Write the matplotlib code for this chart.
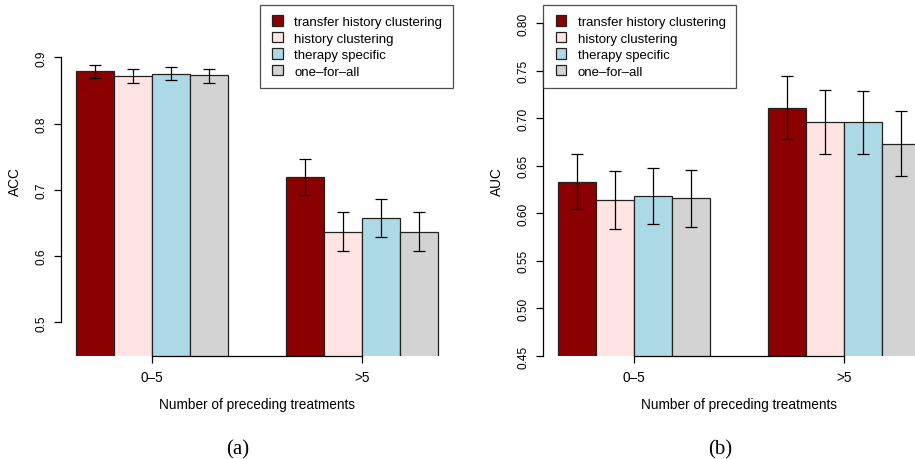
import numpy as np
import matplotlib
matplotlib.use("Agg")
import matplotlib.pyplot as plt
from matplotlib.patches import Patch, Rectangle
from matplotlib.legend_handler import HandlerPatch

plt.rcParams['font.family'] = ['Liberation Sans', 'DejaVu Sans']

# data
groups = ['0\u20135', '>5']
methods = ['transfer history clustering', 'history clustering',
           'therapy specific', 'one\u2013for\u2013all']
colors = ['#8B0000', '#FFE4E1', '#ADD8E6', '#D3D3D3']

acc_mean = [[0.880, 0.720], [0.872, 0.636], [0.875, 0.658], [0.873, 0.636]]
acc_lo = [[0.869, 0.693], [0.862, 0.608], [0.866, 0.629], [0.862, 0.608]]
acc_hi = [[0.889, 0.747], [0.883, 0.666], [0.886, 0.687], [0.883, 0.666]]

auc_mean = [[0.633, 0.711], [0.614, 0.696], [0.6185, 0.6956], [0.616, 0.673]]
auc_lo = [[0.605, 0.678], [0.584, 0.662], [0.589, 0.662], [0.586, 0.639]]
auc_hi = [[0.662, 0.744], [0.644, 0.730], [0.648, 0.729], [0.646, 0.708]]

acc_ticks = [0.5, 0.6, 0.7, 0.8, 0.9]
auc_ticks = [0.45, 0.50, 0.55, 0.60, 0.65, 0.70, 0.75, 0.80]

W, H = 915, 460
fig = plt.figure(figsize=(W / 100, H / 100), dpi=100)

centers = np.array([0.0, 5.5])
offsets = np.array([-1.5, -0.5, 0.5, 1.5])


def square_patch(legend, orig_handle, xdescent, ydescent, width, height, fontsize):
    # small square at the right end of the handle slot, like R's legend fill boxes
    s = 0.78 * fontsize
    return Rectangle((-xdescent + width - s, -ydescent + (height - s) / 2), s, s)


def draw_panel(ax, mean, lo, hi, ylim, ticks, fmt, ylabel, legend_loc):
    for i in range(4):
        x = centers + offsets[i]
        m = np.array(mean[i])
        err = [m - np.array(lo[i]), np.array(hi[i]) - m]
        ax.bar(x, m, width=1.0, color=colors[i], edgecolor='#222222',
               linewidth=0.9, zorder=2)
        ax.errorbar(x, m, yerr=err, fmt='none', ecolor='black',
                    elinewidth=0.9, capsize=4, capthick=0.9, zorder=3)
    ax.set_xlim(-2.38, 7.88)
    ax.set_ylim(*ylim)
    for s in ['top', 'right']:
        ax.spines[s].set_visible(False)
    ax.spines['left'].set_bounds(ticks[0], ticks[-1])
    ax.spines['bottom'].set_bounds(centers[0], centers[-1])
    ax.spines['left'].set_linewidth(0.9)
    ax.spines['bottom'].set_linewidth(0.9)
    ax.set_yticks(ticks)
    ax.set_yticklabels([fmt % t for t in ticks], rotation=90, va='center',
                       fontsize=8.6)
    ax.set_xticks(centers)
    ax.set_xticklabels(groups, fontsize=9.8)
    ax.tick_params(axis='both', length=5, width=0.9, pad=5)
    ax.tick_params(axis='x', pad=5)
    ax.set_xlabel('Number of preceding treatments', fontsize=9.8, labelpad=9)
    ax.set_ylabel(ylabel, fontsize=9.8, labelpad=10)
    handles = [Patch(facecolor=c, edgecolor='#222222', linewidth=0.9) for c in colors]
    leg = ax.legend(handles, methods, loc=legend_loc, fontsize=9.5,
                    frameon=True, fancybox=False, borderaxespad=0,
                    handlelength=0.92, handleheight=0.78, handletextpad=0.89,
                    labelspacing=0.3, borderpad=0.8,
                    handler_map={Patch: HandlerPatch(patch_func=square_patch)})
    leg.get_frame().set_edgecolor('#222222')
    leg.get_frame().set_linewidth(0.9)


bottom = 1 - 357.3 / H
height = (357.3 - 6) / H
ax1 = fig.add_axes([61.3 / W, bottom, 391.5 / W, height])
draw_panel(ax1, acc_mean, acc_lo, acc_hi, (0.449, 0.979), acc_ticks, '%.1f',
           'ACC', 'upper right')

ax2 = fig.add_axes([543.3 / W, bottom, 391.5 / W, height])
draw_panel(ax2, auc_mean, auc_lo, auc_hi, (0.4497, 0.819), auc_ticks, '%.2f',
           'AUC', 'upper left')

fig.text(238 / W, 1 - 454 / H, '(a)', ha='center', va='baseline',
         fontsize=15, family='Liberation Serif')
fig.text(720 / W, 1 - 454 / H, '(b)', ha='center', va='baseline',
         fontsize=15, family='Liberation Serif')

fig.savefig('out.png', dpi=100)
